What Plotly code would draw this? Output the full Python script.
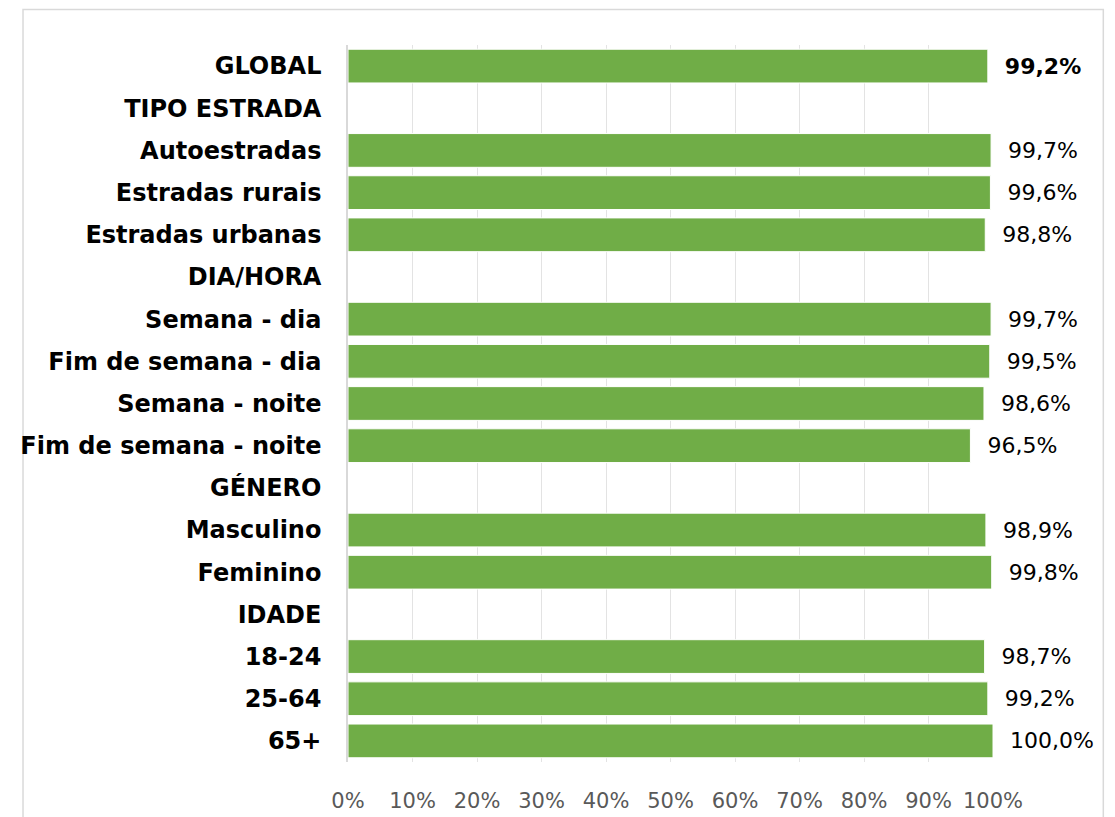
import plotly.graph_objects as go

categories = ["GLOBAL", "TIPO ESTRADA", "Autoestradas", "Estradas rurais", "Estradas urbanas",
              "DIA/HORA", "Semana - dia", "Fim de semana - dia", "Semana - noite",
              "Fim de semana - noite", "GÉNERO", "Masculino", "Feminino", "IDADE",
              "18-24", "25-64", "65+"]
values = [99.2, None, 99.7, 99.6, 98.8, None, 99.7, 99.5, 98.6, 96.5, None,
          98.9, 99.8, None, 98.7, 99.2, 100.0]
tick_vals = [0, 0.1, 0.2, 0.3, 0.4, 0.5, 0.6, 0.7, 0.8, 0.9, 1.0]
tick_text = ["0%", "10%", "20%", "30%", "40%", "50%", "60%", "70%", "80%", "90%", "100%"]

x = [v / 100 if v is not None else None for v in values]
texts = []
for c, v in zip(categories, values):
    if v is None:
        texts.append("")
    else:
        s = f"{v:.1f}".replace(".", ",") + "%"
        texts.append(f"  <b>{s}</b>" if c == "GLOBAL" else f"  {s}")

W, H = 1115, 817
OFF = 8  # page body margin
# desired screen positions of the plot area
SL, SR, ST, SB = 344, 993, 45, 762
L, R, T, B = SL - OFF, W - (SR - OFF), ST - OFF, H - (SB - OFF)

fig = go.Figure(go.Bar(
    y=categories, x=x, orientation="h",
    marker=dict(color="#70AD47", line=dict(color="white", width=1)),
    text=texts, textposition="outside", cliponaxis=False,
    textfont=dict(family="DejaVu Sans", size=22, color="#000000"),
    hoverinfo="skip",
))

def px_x(p):
    return (p - SL) / (SR - SL)
def px_y(p):
    return 1 - (p - ST) / (SB - ST)

fig.add_shape(type="rect", xref="paper", yref="paper",
              x0=px_x(17), x1=px_x(1104), y0=px_y(840), y1=px_y(9.5),
              line=dict(color="#d9d9d9", width=1.5), fillcolor="rgba(0,0,0,0)", layer="below")

fig.update_layout(
    width=W, height=H,
    margin=dict(l=L, r=R, t=T, b=B, pad=0),
    paper_bgcolor="white", plot_bgcolor="white",
    bargap=0.2, showlegend=False,
    xaxis=dict(range=[0, 1], tickvals=tick_vals, ticktext=tick_text,
               showgrid=True, gridcolor="#e3e3e3", gridwidth=1.2,
               zeroline=False, showline=False, ticks="",
               tickfont=dict(family="DejaVu Sans", size=21, color="#595959"),
               ticklabelstandoff=24, fixedrange=True),
    yaxis=dict(autorange="reversed", type="category",
               showline=True, linecolor="#d9d9d9", linewidth=1.5,
               ticks="", showgrid=False,
               tickfont=dict(family="DejaVu Sans", size=24, color="#000000", weight="bold"),
               ticklabelstandoff=20, fixedrange=True),
)

fig.write_html("out.html")
